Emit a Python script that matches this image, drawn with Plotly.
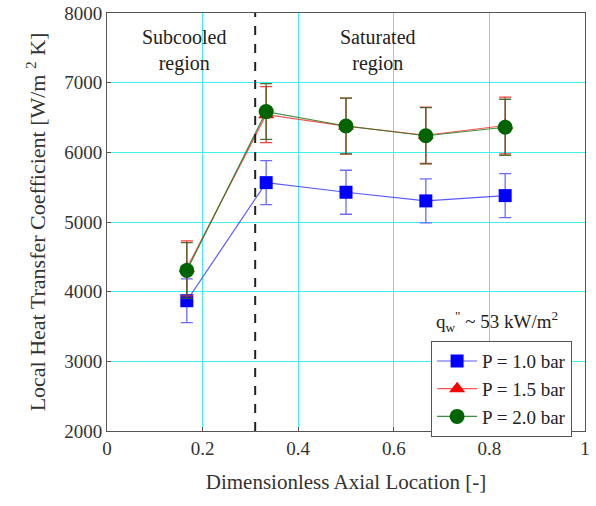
import plotly.graph_objects as go

x_loc = [0.167, 0.333, 0.5, 0.667, 0.833]
h_p10 = [3870, 5565, 5427, 5303, 5379]
e_p10 = [315, 315, 316, 315, 315]
h_p15 = [4335, 6540, 6375, 6245, 6385]
e_p15 = [395, 402, 402, 405, 408]
h_p20 = [4305, 6585, 6378, 6238, 6360]
e_p20 = [400, 400, 400, 405, 402]
series_names = ["P = 1.0 bar", "P = 1.5 bar", "P = 2.0 bar"]
boundary_x = 0.31

FONT = "Liberation Serif"

fig = go.Figure()

specs = [
    (h_p10, e_p10, series_names[0], "rgba(60,60,255,0.85)", "#0000ff", "square", 13, "rgba(90,90,255,0.9)"),
    (h_p15, e_p15, series_names[1], "rgba(255,40,40,0.8)", "#ff0000", "triangle-up", 14, "rgba(255,40,40,0.9)"),
    (h_p20, e_p20, series_names[2], "rgba(30,120,30,0.85)", "#006400", "circle", 15, "rgba(60,100,30,0.9)"),
]
for y, e, name, lc, mc, sym, ms, ec in specs:
    fig.add_trace(go.Scatter(
        x=x_loc, y=y, name=name, mode="lines+markers",
        line=dict(color=lc, width=1.2),
        marker=dict(color=mc, symbol=sym, size=ms, line=dict(width=0)),
        error_y=dict(type="data", array=e, visible=True, color=ec, thickness=1.3, width=6),
    ))

fig.add_shape(type="line", x0=boundary_x, x1=boundary_x, y0=0, y1=1, xref="x", yref="paper",
              line=dict(color="#222", width=2, dash="dash"))

fig.add_annotation(x=0.161, y=7455, xref="x", yref="y", text="Subcooled<br>region",
                   showarrow=False, font=dict(family=FONT, size=20, color="#222"))
fig.add_annotation(x=0.567, y=7455, xref="x", yref="y", text="Saturated<br>region",
                   showarrow=False, font=dict(family=FONT, size=20, color="#222"))
fig.add_annotation(x=0.816, y=3567, xref="x", yref="y",
                   text="q<sub>w</sub><sup>\"</sup> ~ 53 kW/m<sup>2</sup>",
                   showarrow=False, font=dict(family=FONT, size=19, color="#222"))

fig.update_layout(
    width=596, height=506,
    margin=dict(l=107, r=11, t=13, b=75, autoexpand=False),
    paper_bgcolor="white", plot_bgcolor="white",
    font=dict(family=FONT, size=19, color="#333"),
    showlegend=True,
    legend=dict(x=0.973, y=0.215, xanchor="right", yanchor="top",
                bgcolor="white", bordercolor="#555", borderwidth=1,
                font=dict(family=FONT, size=19, color="#222"),
                tracegroupgap=0, itemwidth=40),
)
fig.update_xaxes(range=[0, 1], tickvals=[0, 0.2, 0.4, 0.6, 0.8, 1],
                 ticktext=["0", "0.2", "0.4", "0.6", "0.8", "1"],
                 showgrid=True, gridcolor="#40f0f0", gridwidth=1,
                 showline=True, linecolor="#555", linewidth=1, mirror=True,
                 ticks="inside", ticklen=4, tickcolor="#555",
                 zeroline=False, automargin=False,
                 title=dict(text="Dimensionless Axial Location [-]", font=dict(family=FONT, size=21, color="#333"), standoff=16))
fig.update_yaxes(range=[2000, 8000], tickvals=[2000, 3000, 4000, 5000, 6000, 7000, 8000],
                 showgrid=True, gridcolor="#40f0f0", gridwidth=1,
                 showline=True, linecolor="#555", linewidth=1, mirror=True,
                 ticks="inside", ticklen=4, tickcolor="#555",
                 zeroline=False, automargin=False,
                 title=dict(text="Local Heat Transfer Coefficient [W/m <sup>2</sup> K]", font=dict(family=FONT, size=22, color="#333"), standoff=12))

fig.write_html("out.html", config={"displayModeBar": False},
               post_script="document.body.style.margin='0';")
